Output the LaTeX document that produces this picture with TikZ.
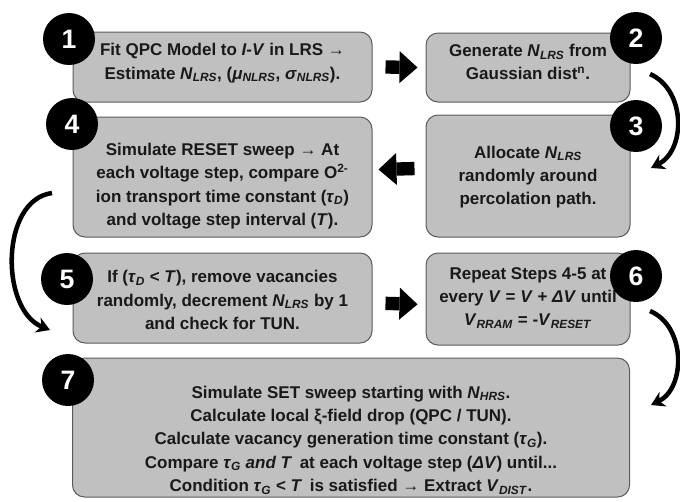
\documentclass[tikz,border=0pt]{standalone}
\usepackage{fontspec}
\setmainfont{Liberation Sans}
\usetikzlibrary{arrows.meta}
\definecolor{boxfill}{HTML}{C0C0C0}
\definecolor{boxline}{HTML}{5A5A5A}
\newcommand\vsub[2]{\textit{#1}\textsubscript{\textit{#2}}}
\begin{document}
\begin{tikzpicture}[x=0.75pt,y=-0.75pt,
  stepbox/.style={draw=boxline,fill=boxfill,rounded corners=9pt,line width=0.75pt,inner sep=0pt},
  wide/.style={stepbox,minimum width=224.25pt},
  narrow/.style={stepbox,minimum width=153pt},
  steptext/.style={align=center,inner sep=0pt,text=black!90,font=\bfseries\fontsize{12.75}{17.5}\selectfont},
  stepnum/.style={circle,fill=black,text=white,minimum size=39pt,inner sep=0pt,font=\bfseries\fontsize{20}{20}\selectfont},
  blockarrow/.style={line width=10pt,-{Triangle[length=13.5pt,width=24pt,line width=0pt]}},
  curvearrow/.style={line width=3.4pt,-{Stealth[length=10pt,width=12pt]}}]
\useasboundingbox (0,0) rectangle (680,501);

% boxes
\node[wide,minimum height=52.5pt] (b1) at (222.5,67) {};
\node[narrow,minimum height=51.75pt] (b2) at (528,67.5) {};
\node[narrow,minimum height=91.5pt] (b3) at (528,176) {};
\node[wide,minimum height=90pt] (b4) at (222.5,177) {};
\node[wide,minimum height=67.5pt] (b5) at (222.5,298) {};
\node[narrow,minimum height=69pt] (b6) at (528,299) {};
\node[stepbox,minimum width=417.75pt,minimum height=104.25pt] (b7) at (351,427.5) {};

% texts
\node[steptext] (t1) at (222.5,63) {Fit QPC Model to \textit{I-V} in LRS →\\
  Estimate \vsub{N}{LRS}, (\vsub{μ}{NLRS}, \vsub{σ}{NLRS}).};
\node[steptext] (t2) at (528,62) {Generate \vsub{N}{LRS} from\\Gaussian dist\textsuperscript{n}.};
\node[steptext] (t3) at (528,177) {Allocate \vsub{N}{LRS}\\randomly around\\percolation path.};
\node[steptext] (t4) at (222.5,186) {Simulate RESET sweep → At\\
  each voltage step, compare O\textsuperscript{2-}\\
  ion transport time constant (\vsub{τ}{D})\\
  and voltage step interval (\textit{T}).};
\node[steptext] (t5) at (222.5,300) {If (\vsub{τ}{D} < \textit{T}), remove vacancies\\
  randomly, decrement \vsub{N}{LRS} by 1\\and check for TUN.};
\node[steptext] (t6) at (528,298) {Repeat Steps 4-5 at\\
  every \textit{V} = \textit{V} + \textit{ΔV} until\\
  \vsub{V}{RRAM} = -\vsub{V}{RESET}};
\node[steptext] (t7) at (351,440) {Simulate SET sweep starting with \vsub{N}{HRS}.\\
  Calculate local ξ-field drop (QPC / TUN).\\
  Calculate vacancy generation time constant (\vsub{τ}{G}).\\
  Compare \vsub{τ}{G} \textit{and T}\, at each voltage step (\textit{ΔV}) until...\\
  Condition \vsub{τ}{G} < \textit{T}\, is satisfied → Extract \vsub{V}{DIST}.};

% step numbers
\node[stepnum] (n1) at (69,39) {1};
\node[stepnum] (n2) at (636,38) {2};
\node[stepnum] (n3) at (636,126) {3};
\node[stepnum] (n4) at (72,124) {4};
\node[stepnum] (n5) at (67,279) {5};
\node[stepnum] (n6) at (636,276) {6};
\node[stepnum] (n7) at (68,380) {7};

% block arrows
\draw[blockarrow] ([xshift=9.75pt]b1.east) -- ([xshift=-6pt]b2.west);
\draw[blockarrow] ([xshift=-8.25pt,yshift=5.6pt]b3.west) -- ([xshift=4.5pt,yshift=5.6pt]b4.east);
\draw[blockarrow] ([xshift=9.75pt,yshift=-4pt]b5.east) -- ([xshift=-6pt,yshift=-4pt]b6.west);

% curved arrows
\coordinate (k2s) at (650,74);
\coordinate (k2e) at (651,168);
\draw[curvearrow] (k2s) .. controls (686,90) and (686,150) .. (k2e);
\coordinate (k4s) at (52,193);
\coordinate (k4e) at (50,330);
\draw[curvearrow] (k4s) .. controls (0,200) and (0,310) .. (k4e);
\coordinate (k6s) at (650,311);
\coordinate (k6e) at (651,405);
\draw[curvearrow] (k6s) .. controls (686,326) and (686,388) .. (k6e);
\end{tikzpicture}
\end{document}
